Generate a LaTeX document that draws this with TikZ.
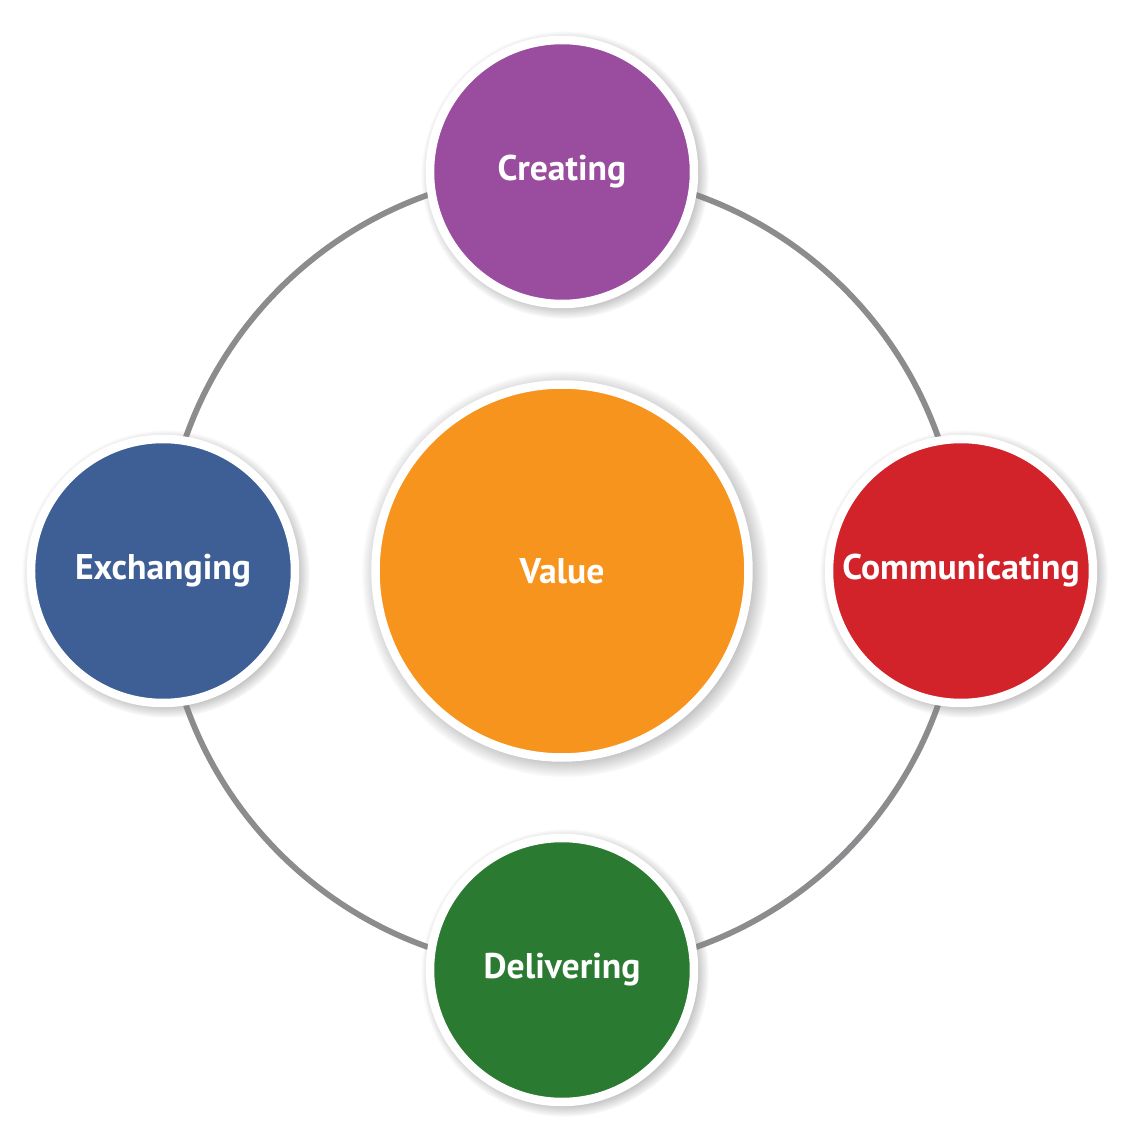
\documentclass[tikz,border=0pt]{standalone}
\usepackage{fontspec}
\setmainfont{PT Sans}
\usepackage{tikz}
\usetikzlibrary{positioning, shadows, backgrounds}
\definecolor{creatingpurple}{HTML}{9A4D9E}
\definecolor{valueorange}{HTML}{F7941D}
\definecolor{commred}{HTML}{D2232A}
\definecolor{exchblue}{HTML}{3E5F96}
\definecolor{delivgreen}{HTML}{2A7B31}
\definecolor{ringgray}{HTML}{8C8C8E}
\tikzset{
  bubble/.style = {circle, draw=white, line width=0.17cm, inner sep=0pt,
                   text=white, font=\fontsize{20.3}{24}\selectfont\bfseries,
                   circular drop shadow={shadow xshift=1.5pt, shadow yshift=-1.5pt,
                                         shadow scale=1.09, opacity=0.8}},
  small bubble/.style = {bubble, minimum size=5.28cm},
  big bubble/.style   = {bubble, minimum size=7.46cm},
  ring/.style = {ringgray, line width=3.3pt},
}

\begin{document}
\begin{tikzpicture}
\useasboundingbox (-11.24,-11.46) rectangle (11.44,11.42);

% =====================================================================
% Centre and the four activities round it
% =====================================================================
\node[big bubble, fill=valueorange] (value) at (0,0) {Value};

\node[small bubble, fill=creatingpurple] (creating)      at (0,     7.98) {Creating};
\node[small bubble, fill=commred]        (communicating) at (7.98,  0)    {Communicating};
\node[small bubble, fill=delivgreen]     (delivering)    at (0,    -7.98) {Delivering};
\node[small bubble, fill=exchblue]       (exchanging)    at (-7.98, 0)    {Exchanging};

% Outer ring, one quarter between each pair
\begin{scope}[on background layer]
  \draw[ring] (creating.center)      to[bend left=45] (communicating.center);
  \draw[ring] (communicating.center) to[bend left=45] (delivering.center);
  \draw[ring] (delivering.center)    to[bend left=45] (exchanging.center);
  \draw[ring] (exchanging.center)    to[bend left=45] (creating.center);
\end{scope}

\end{tikzpicture}
\end{document}
